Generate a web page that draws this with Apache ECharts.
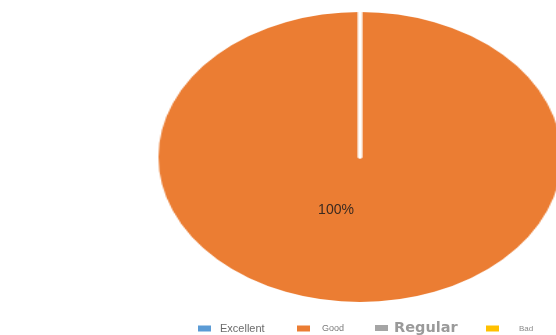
<!DOCTYPE html>
<html>
<head>
<meta charset="utf-8">
<script src="https://cdn.jsdelivr.net/npm/echarts@6/dist/echarts.min.js"></script>
<style>
  html, body { margin: 0; padding: 0; width: 556px; height: 335px; overflow: hidden; background: #fff; }
  #pie, #overlay { position: absolute; left: 0; top: 0; width: 556px; height: 335px; }
  /* The pie is stretched horizontally around its centre to form an ellipse */
  #pie { transform-origin: 360px 157px; transform: scaleX(1.39); }
</style>
</head>
<body>
<div id="pie"></div>
<div id="overlay"></div>
<script>
// Rating shares
const categories = ['Excellent', 'Good', 'Regular', 'Bad'];
const values = [0, 100, 0, 0];
const colors = ['#5B9BD5', '#EB7D33', '#A5A5A5', '#FFC000'];

const seriesData = categories.map((name, i) => ({
  name: name,
  value: values[i],
  itemStyle: { color: colors[i] }
}));

// Elliptical pie body
const pieChart = echarts.init(document.getElementById('pie'), null, { renderer: 'canvas' });
pieChart.setOption({
  animation: false,
  series: [{
    type: 'pie',
    center: [360, 157],
    radius: 146.5,
    startAngle: 90,
    clockwise: true,
    avoidLabelOverlap: false,
    label: { show: false },
    labelLine: { show: false },
    itemStyle: { borderColor: '#ffffff', borderWidth: 3 },
    emphasis: { disabled: true },
    data: seriesData
  }]
});

// Percentage label and legend, drawn unstretched on top
const legendStyles = [
  { left: 198, top: 323, font: 11, family: 'Liberation Sans', weight: 'normal', pad: 4, color: '#6b6b6b' },
  { left: 297, top: 324, font: 9, family: 'Liberation Sans', weight: 'normal', pad: 7, color: '#7a7a7a' },
  { left: 375, top: 320.5, font: 14.5, family: 'DejaVu Sans', weight: 'bold', pad: 1, color: '#9a9a9a' },
  { left: 486, top: 324.5, font: 8, family: 'Liberation Sans', weight: 'normal', pad: 15, color: '#8a8a8a' }
];

const legends = categories.map((name, i) => {
  const s = legendStyles[i];
  return {
    data: [name],
    left: s.left,
    top: s.top,
    orient: 'horizontal',
    icon: 'rect',
    itemWidth: 13,
    itemHeight: 6,
    padding: 0,
    selectedMode: false,
    textStyle: {
      fontFamily: s.family,
      fontSize: s.font,
      fontWeight: s.weight,
      color: s.color,
      padding: [0, 0, 0, s.pad]
    }
  };
});

const overlayChart = echarts.init(document.getElementById('overlay'), null, { renderer: 'canvas' });
overlayChart.setOption({
  animation: false,
  legend: legends,
  series: [{
    type: 'pie',
    center: [336, 210],
    radius: 0,
    startAngle: 90,
    silent: true,
    avoidLabelOverlap: false,
    label: {
      show: true,
      position: 'center',
      fontFamily: 'Liberation Sans',
      fontSize: 14,
      color: '#3a2a20',
      formatter: p => (p.value > 0 ? p.percent + '%' : '')
    },
    labelLine: { show: false },
    data: seriesData
  }]
});
</script>
</body>
</html>
